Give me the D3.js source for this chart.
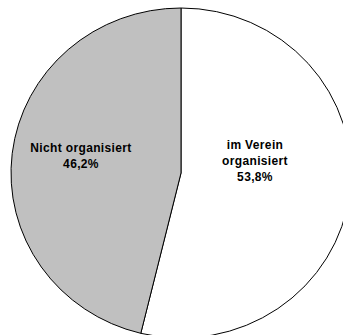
<!DOCTYPE html>
<html>
<head>
<meta charset="utf-8">
<script src="https://cdn.jsdelivr.net/npm/d3@7"></script>
<style>
  html, body { margin: 0; padding: 0; background: #fff; }
  svg { display: block; }
  text { font-family: "Liberation Sans", Arial, sans-serif; font-weight: bold; font-size: 12px; fill: #000; letter-spacing: 0.35px; }
</style>
</head>
<body>
<svg id="chart" width="343" height="335"></svg>
<script>
// Share of members organised in a club vs. not organised
const categories = ["im Verein organisiert", "Nicht organisiert"];
const values = [53.8, 46.2];
const labelLines = [["im Verein", "organisiert", "53,8%"], ["Nicht organisiert", "46,2%"]];
const fills = ["#ffffff", "#c0c0c0"];

const cx = 181, cy = 173;
const ry = 165, rx = 170;

const svg = d3.select("#chart");

const pie = d3.pie().sort(null).value(d => d.value);
const data = pie(categories.map((c, i) => ({ name: c, value: values[i], lines: labelLines[i], fill: fills[i] })));

const arc = d3.arc().innerRadius(0).outerRadius(ry);

// slightly oval plot area
const g = svg.append("g")
  .attr("transform", `translate(${cx},${cy}) scale(${rx / ry},1)`);

g.selectAll("path")
  .data(data)
  .join("path")
  .attr("d", arc)
  .attr("fill", d => d.data.fill)
  .attr("stroke", "#000")
  .attr("stroke-width", 1)
  .attr("vector-effect", "non-scaling-stroke");

// label anchor offsets from the pie centre, one per slice
const labelPos = [[74, -24.5], [-100, -21.3]];
const lineH = 16;

const labels = svg.append("g").attr("transform", `translate(${cx},${cy})`);
data.forEach((d, i) => {
  const [lx, ly] = labelPos[i];
  const t = labels.append("text")
    .attr("text-anchor", "middle")
    .attr("x", lx)
    .attr("y", ly);
  d.data.lines.forEach((line, k) => {
    t.append("tspan")
      .attr("x", lx)
      .attr("dy", k === 0 ? 0 : lineH)
      .text(line);
  });
});
</script>
</body>
</html>
